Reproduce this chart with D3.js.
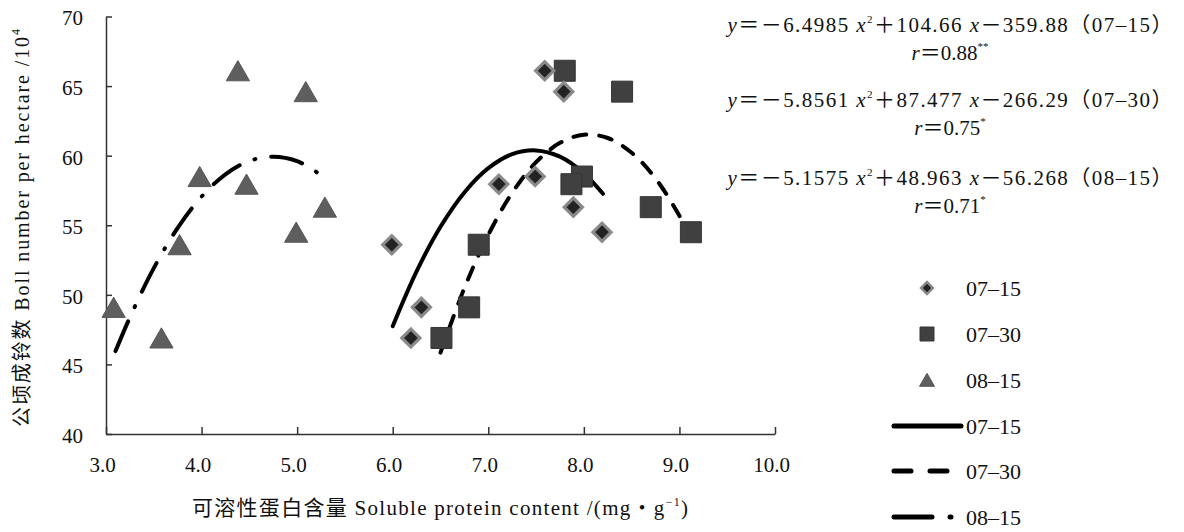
<!DOCTYPE html>
<html lang="zh">
<head>
    <meta charset="UTF-8">
    <title>Boll number vs soluble protein</title>
    <style>
        body { margin: 0; background: #fff; }
        svg text { font-family: "Liberation Serif", "Noto Sans CJK SC", serif; fill: #111; }
    </style>
</head>
<body>
<svg width="1184" height="532"></svg>
<script src="https://d3js.org/d3.v7.min.js"></script>
<script>
    // yield per plot (same 9 plots at each sampling date)
    var bollNumber = [66.1, 64.6, 58.5, 57.95, 56.3, 54.5, 53.6, 49.1, 46.9];
    var protein0715 = [7.59, 7.79, 7.49, 7.11, 7.89, 8.19, 5.99, 6.30, 6.19];
    var protein0730 = [7.80, 8.40, 7.98, 7.87, 8.70, 9.12, 6.90, 6.80, 6.51];
    var protein0815 = [4.38, 5.09, 3.98, 4.47, 5.29, 4.99, 3.77, 3.08, 3.58];

    // trend lines
    var trendX0715 = [6.0, 6.25, 6.5, 6.75, 7.0, 7.25, 7.5, 7.75, 8.0, 8.2];
    var trendY0715 = [47.75, 51.69, 54.89, 57.36, 59.10, 60.11, 60.38, 59.93, 58.74, 57.26];
    var trendX0730 = [6.5, 6.75, 7.0, 7.25, 7.5, 7.75, 8.0, 8.25, 8.5, 8.75, 9.0, 9.12];
    var trendY0730 = [45.85, 50.49, 54.31, 57.33, 59.53, 60.92, 61.50, 61.27, 60.21, 58.36, 55.68, 54.11];
    var trendX0815 = [3.1, 3.25, 3.5, 3.75, 4.0, 4.25, 4.5, 4.75, 5.0, 5.3];
    var trendY0815 = [45.96, 48.38, 51.92, 54.81, 57.06, 58.66, 59.62, 59.93, 59.61, 58.36];

    var xTicks = [3, 4, 5, 6, 7, 8, 9, 10];
    var yTicks = [40, 45, 50, 55, 60, 65, 70];
    var dates = ["07\u201315", "07\u201330", "08\u201315"];

    var equations = [
        ["\uFF0D6.4985", "\uFF0B104.66", "\uFF0D359.88", "\uFF0807\u201315\uFF09"],
        ["\uFF0D5.8561", "\uFF0B87.477", "\uFF0D266.29", "\uFF0807\u201330\uFF09"],
        ["\uFF0D5.1575", "\uFF0B48.963", "\uFF0D56.268", "\uFF0808\u201315\uFF09"]
    ];
    var rValues = ["0.88", "0.75", "0.71"];
    var rStars = ["**", "*", "*"];

    var serif = "'Liberation Serif', 'Noto Sans CJK SC', serif";

    var svg = d3.select("svg");

    // soft grey halo for the diamonds
    svg.append("defs").append("filter").attr("id", "soft")
        .append("feGaussianBlur").attr("stdDeviation", 0.6);

    var x = d3.scaleLinear().domain([3, 10]).range([106, 775]),
        y = d3.scaleLinear().domain([40, 70]).range([434, 16.5]);

    // axes, ticks point inward
    var gx = svg.append("g")
        .attr("transform", "translate(0,434)")
        .call(d3.axisBottom(x).tickValues(xTicks).tickSizeInner(-7).tickSizeOuter(0)
            .tickPadding(23).tickFormat(d3.format(".1f")));
    gx.attr("font-family", serif);
    gx.selectAll("text").attr("dx", -4).style("font-size", "21px");

    var gy = svg.append("g")
        .attr("transform", "translate(106,0)")
        .call(d3.axisLeft(y).tickValues(yTicks).tickSizeInner(-6).tickSizeOuter(0).tickPadding(23));
    gy.attr("font-family", serif);
    gy.selectAll("text").attr("dy", "0.4em").style("font-size", "21px");

    svg.selectAll(".domain, .tick line").attr("stroke", "#333").attr("stroke-width", 1.5);

    // axis titles
    var xt = svg.append("text")
        .attr("x", 440).attr("y", 515)
        .attr("text-anchor", "middle")
        .attr("textLength", 496).attr("lengthAdjust", "spacing")
        .style("font-size", "21px");
    xt.append("tspan").text("可溶性蛋白含量 Soluble protein content /(mg\u30FBg");
    xt.append("tspan").attr("dy", -9).style("font-size", "12px").text("\u22121");
    xt.append("tspan").attr("dy", 9).text(")");

    var yt = svg.append("text")
        .attr("transform", "translate(29,228) rotate(-90)")
        .attr("text-anchor", "middle")
        .attr("textLength", 398).attr("lengthAdjust", "spacing")
        .style("font-size", "20px");
    yt.append("tspan").text("公顷成铃数 Boll number per hectare /10");
    yt.append("tspan").attr("dy", -9).style("font-size", "12px").text("4");

    // trend lines
    var line = d3.line()
        .x(function(d) { return x(d[0]); })
        .y(function(d) { return y(d[1]); })
        .curve(d3.curveCatmullRom);

    var trends = [
        { xs: trendX0715, ys: trendY0715, dash: null },
        { xs: trendX0730, ys: trendY0730, dash: "13 13" },
        { xs: trendX0815, ys: trendY0815, dash: "32 16 1 16" }
    ];
    trends.forEach(function(t) {
        svg.append("path")
            .datum(d3.zip(t.xs, t.ys))
            .attr("d", line)
            .attr("fill", "none")
            .attr("stroke", "#000")
            .attr("stroke-width", 4)
            .attr("stroke-linecap", "round")
            .attr("stroke-dasharray", t.dash);
    });

    // markers
    var styles = [
        { type: d3.symbolSquare, size: 170, rot: 45, fill: "#222", stroke: "#8a8a8a", sw: 3.2, off: 0,
          lsize: 70 },
        { type: d3.symbolSquare, size: 441, rot: 0, fill: "#404040", stroke: "#353535", sw: 1, off: 0,
          lsize: 196 },
        { type: d3.symbolTriangle, size: 235, rot: 0, fill: "#5e5e5e", stroke: "#575757", sw: 1, off: 3.3,
          lsize: 97 }
    ];
    var proteins = [protein0715, protein0730, protein0815];

    // draw 08-15 first so later dates sit on top
    [2, 1, 0].forEach(function(k) {
        var s = styles[k];
        svg.append("g").selectAll("path")
            .data(d3.zip(proteins[k], bollNumber))
            .enter().append("path")
            .attr("d", d3.symbol(s.type, s.size))
            .attr("transform", function(d) {
                return "translate(" + x(d[0]) + "," + (y(d[1]) + s.off) + ") rotate(" + s.rot + ")";
            })
            .attr("fill", s.fill)
            .attr("stroke", s.stroke)
            .attr("stroke-width", s.sw)
            .attr("filter", k === 0 ? "url(#soft)" : null);
    });

    // equations
    var eqY = [31.5, 107, 185],
        rY = [60, 135, 213];
    equations.forEach(function(e, i) {
        var t = svg.append("text")
            .attr("x", 950).attr("y", eqY[i])
            .attr("text-anchor", "middle")
            .attr("textLength", 445).attr("lengthAdjust", "spacing")
            .style("font-size", "21px");
        t.append("tspan").style("font-style", "italic").text("y");
        t.append("tspan").text("\uFF1D" + e[0] + " ");
        t.append("tspan").style("font-style", "italic").text("x");
        t.append("tspan").attr("dy", -9).style("font-size", "11px").text("2");
        t.append("tspan").attr("dy", 9).text(e[1] + " ");
        t.append("tspan").style("font-style", "italic").text("x");
        t.append("tspan").text(e[2] + e[3]);

        var r = svg.append("text")
            .attr("x", 950).attr("y", rY[i])
            .attr("text-anchor", "middle")
            .style("font-size", "21px");
        r.append("tspan").style("font-style", "italic").text("r");
        r.append("tspan").text("\uFF1D" + rValues[i]);
        r.append("tspan").attr("dy", -10).style("font-size", "11px").text(rStars[i]);
    });

    // legend
    var legY = [288, 334, 380, 426, 471, 517];
    var leg = svg.append("g");
    styles.forEach(function(s, i) {
        leg.append("path")
            .attr("d", d3.symbol(s.type, s.lsize))
            .attr("transform", "translate(927," + (legY[i] + s.off * 0.6) + ") rotate(" + s.rot + ")")
            .attr("fill", s.fill)
            .attr("stroke", s.stroke)
            .attr("stroke-width", i === 0 ? 2.5 : 1);
    });
    var legDash = [null, "17 19", "38 18 1 30"];
    legDash.forEach(function(dash, i) {
        leg.append("line")
            .attr("x1", 894).attr("x2", i === 0 ? 961 : 953)
            .attr("y1", legY[i + 3]).attr("y2", legY[i + 3])
            .attr("stroke", "#000")
            .attr("stroke-width", 5)
            .attr("stroke-linecap", "round")
            .attr("stroke-dasharray", dash);
    });
    dates.concat(dates).forEach(function(d, i) {
        leg.append("text")
            .attr("x", 966).attr("y", legY[i] + 8)
            .style("font-size", "22px")
            .text(d);
    });

    svg.selectAll("text").style("font-family", serif);
</script>
</body>
</html>
